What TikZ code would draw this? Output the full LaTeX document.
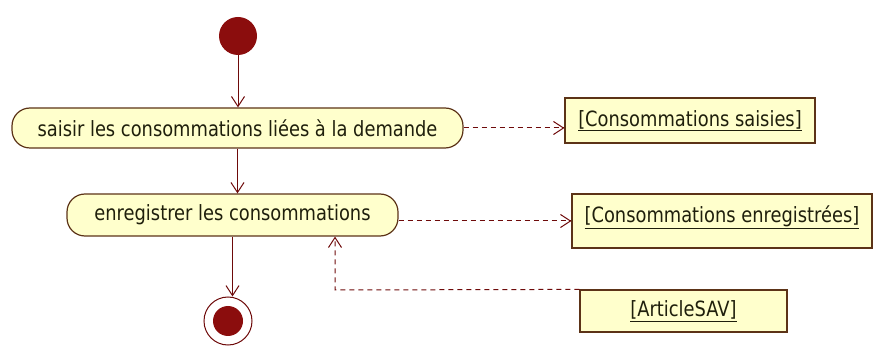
\documentclass[tikz,border=0pt]{standalone}
\usepackage{fontspec}
\newfontfamily\umlfont{DejaVu Sans}[FakeStretch=0.85]
\usetikzlibrary{arrows.meta}
\definecolor{umlfill}{HTML}{FFFFCC}
\definecolor{umlline}{HTML}{6E0A0A}
\definecolor{umldot}{HTML}{8B0D0D}
\definecolor{umlborder}{HTML}{5C3317}
\definecolor{umltext}{HTML}{1F1F0C}

\begin{document}
\begin{tikzpicture}[x=1pt,y=-1pt,
  action/.style={draw=umlborder,line width=1.2pt,fill=umlfill,rounded corners=18pt,inner sep=0pt,text=umltext,font=\umlfont\fontsize{21}{24}\selectfont},
  object/.style={draw=umlborder,line width=1.2pt,fill=umlfill,inner sep=0pt,text=umltext,font=\umlfont\fontsize{21}{24}\selectfont},
  flow/.style={umlline,line width=1pt,-{Straight Barb[length=10pt,width=13pt,line width=1pt]}},
  dep/.style={flow,dashed,dash pattern=on 5pt off 4pt}]
\useasboundingbox (0,0) rectangle (873,347);
\node[circle,fill=umldot,minimum size=38pt,inner sep=0pt] (start) at (238,36) {};
\node[action,minimum width=451pt,minimum height=40pt] (act1) at (237.5,128) {saisir les consommations liées à la demande};
\node[action,minimum width=331pt,minimum height=42pt] (act2) at (232.5,215) {enregistrer les consommations};
\node[circle,draw=umlline,line width=1pt,minimum size=48pt,inner sep=0pt] (final) at (228,321) {};
\node[circle,fill=umldot,minimum size=30pt,inner sep=0pt] at (final) {};
\node[object,minimum width=250pt,minimum height=45pt] (obj1) at (690,120.5) {\underline{[Consommations saisies]}};
\node[object,minimum width=300pt,minimum height=54pt,text depth=14pt] (obj2) at (722,221) {\underline{[Consommations enregistrées]}};
\node[object,minimum width=207pt,minimum height=42pt] (obj3) at (683.5,311) {\underline{[ArticleSAV]}};
\coordinate (bend) at (335,290);
% flots de controle
\draw[flow] (start) -- (start |- act1.north);
\draw[flow] (act1.south) -- (act1.south |- act2.north);
\draw[flow] (act2.south) -- (act2.south |- final.north);
% flots d'objets
\draw[dep] (act1.east) -- (act1.east -| obj1.west);
\draw[dep] (act2.east |- obj2.west) -- (obj2.west);
\draw[dep] (obj3.north west) -- (bend) -- (bend |- act2.south);
\end{tikzpicture}
\end{document}
